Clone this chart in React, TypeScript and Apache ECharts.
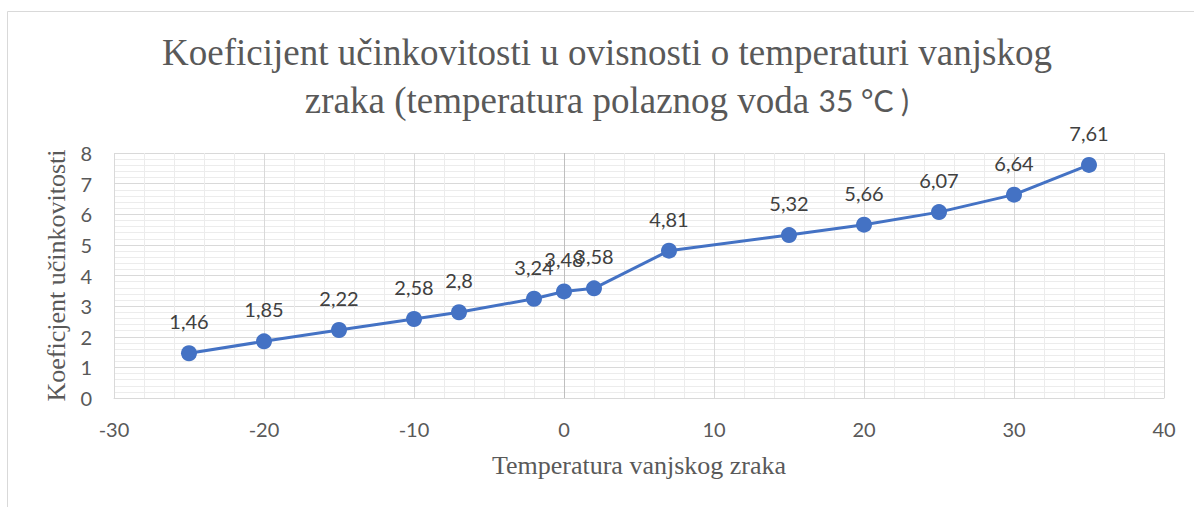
import React, { useEffect, useRef } from "react";
import * as echarts from "echarts";

const temperatures = [-25, -20, -15, -10, -7, -2, 0, 2, 7, 15, 20, 25, 30, 35];
const cop = [1.46, 1.85, 2.22, 2.58, 2.8, 3.24, 3.48, 3.58, 4.81, 5.32, 5.66, 6.07, 6.64, 7.61];
const titleLine1 = "Koeficijent učinkovitosti u ovisnosti o temperaturi vanjskog";
const titleLine2a = "zraka (temperatura polaznog voda ";
const titleLine2b = "35 °C )";
const xAxisName = "Temperatura vanjskog zraka";
const yAxisName = "Koeficjent učinkovitosti";

const SERIF = "'Liberation Serif', 'DejaVu Serif', serif";
const SANS = "Lato, 'Open Sans', sans-serif";

export default function App() {
  const ref = useRef<HTMLDivElement>(null);
  useEffect(() => {
    if (!ref.current) return;
    const chart = echarts.init(ref.current, undefined, { renderer: "svg" });
    chart.setOption({
      animation: false,
      backgroundColor: "#ffffff",
      graphic: [
        {
          type: "rect",
          shape: { x: 7.5, y: 11.5, width: 1400, height: 700 },
          style: { fill: "none", stroke: "#d9d9d9", lineWidth: 1 },
          silent: true,
        },
        {
          type: "text",
          x: 607,
          y: 52,
          style: {
            text: titleLine1,
            font: `37px ${SERIF}`,
            fill: "#595959",
            textAlign: "center",
            textVerticalAlign: "middle",
          },
        },
        {
          type: "text",
          x: 607,
          y: 100,
          style: {
            text: `{s|${titleLine2a}}{c|${titleLine2b}}`,
            textAlign: "center",
            textVerticalAlign: "middle",
            rich: {
              s: { fontSize: 37, fontFamily: SERIF, fill: "#595959" },
              c: { fontSize: 30, fontFamily: SANS, fill: "#595959" },
            },
          },
        },
      ],
      grid: { left: 114, right: 30, top: 153, bottom: 109 },
      xAxis: {
        type: "value",
        min: -30,
        max: 40,
        interval: 10,
        name: xAxisName,
        nameLocation: "middle",
        nameGap: 54,
        nameTextStyle: { fontFamily: SERIF, fontSize: 26, color: "#595959" },
        axisLine: { show: true, lineStyle: { color: "#d9d9d9", width: 1 } },
        axisTick: { show: false },
        axisLabel: { fontFamily: SANS, fontSize: 20, color: "#595959", margin: 21 },
        splitLine: { show: true, lineStyle: { color: "#d9d9d9", width: 1 } },
        minorTick: { show: false, splitNumber: 5 },
        minorSplitLine: { show: true, lineStyle: { color: "#ececec", width: 1 } },
      },
      yAxis: {
        type: "value",
        min: 0,
        max: 8,
        interval: 1,
        name: yAxisName,
        nameLocation: "middle",
        nameGap: 40,
        nameTextStyle: { fontFamily: SERIF, fontSize: 26, color: "#595959" },
        axisLine: { show: false },
        axisTick: { show: false },
        axisLabel: { fontFamily: SANS, fontSize: 20, color: "#595959", margin: 22 },
        splitLine: { show: true, lineStyle: { color: "#d9d9d9", width: 1 } },
        minorTick: { show: false, splitNumber: 5 },
        minorSplitLine: { show: true, lineStyle: { color: "#ececec", width: 1 } },
      },
      series: [
        {
          type: "line",
          data: temperatures.map((t, i) => [t, cop[i]]),
          symbol: "circle",
          symbolSize: 16,
          itemStyle: { color: "#4472c4" },
          lineStyle: { color: "#4472c4", width: 3 },
          z: 5,
          label: {
            show: true,
            position: "top",
            distance: 14,
            fontFamily: SANS,
            fontSize: 20,
            color: "#404040",
            formatter: (p: any) => String(p.value[1]).replace(".", ","),
          },
          markLine: {
            silent: true,
            symbol: "none",
            label: { show: false },
            lineStyle: { color: "#bfbfbf", type: "solid", width: 1 },
            data: [{ xAxis: 0 }],
            z: 1,
          },
        },
      ],
    });
    return () => chart.dispose();
  }, []);
  return (
    <div
      ref={ref}
      style={{ position: "fixed", left: 0, top: 0, width: 1194, height: 507 }}
    />
  );
}
